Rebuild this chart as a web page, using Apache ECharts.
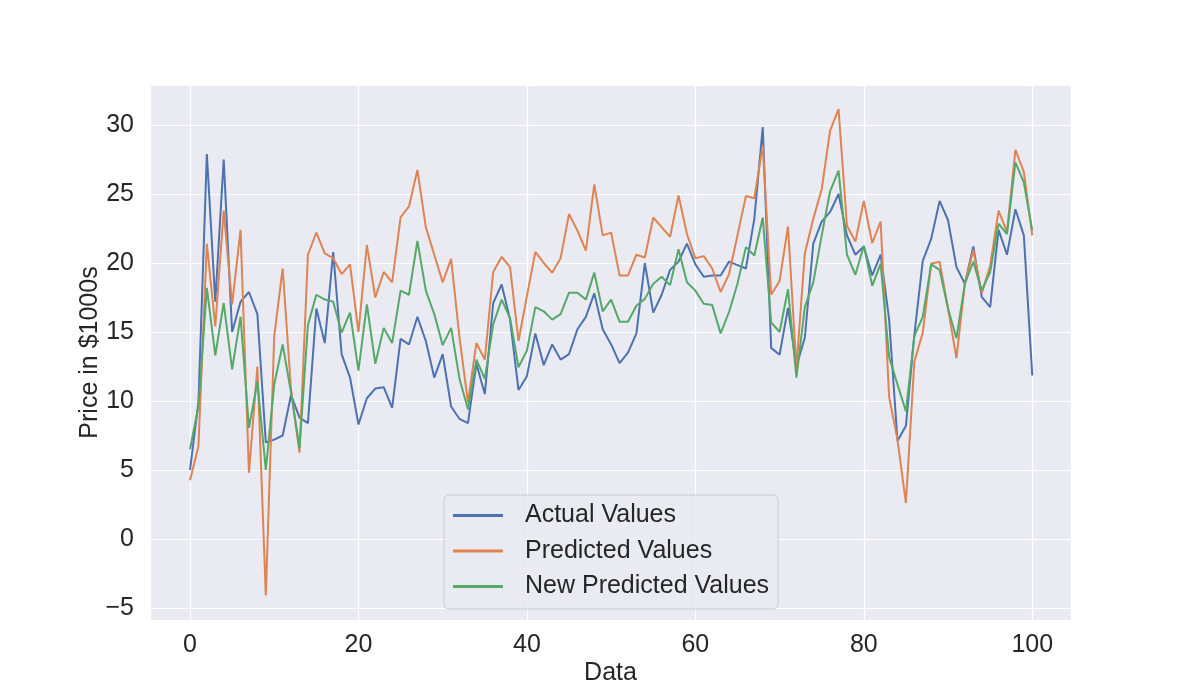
<!DOCTYPE html>
<html>
<head>
<meta charset="utf-8">
<script src="https://cdn.jsdelivr.net/npm/echarts@6/dist/echarts.min.js"></script>
<style>
html,body{margin:0;padding:0;background:#ffffff;}
#chart{width:1192px;height:698px;}
</style>
</head>
<body>
<div id="chart"></div>
<script>
const seriesNames = ['Actual Values', 'Predicted Values', 'New Predicted Values'];
const actualValues = [5.0, 9.9, 27.9, 17.2, 27.5, 15.0, 17.2, 17.9, 16.3, 7.0,
  7.2, 7.5, 10.45, 8.8, 8.4, 16.7, 14.2, 20.8, 13.4, 11.7,
  8.3, 10.2, 10.9, 11.0, 9.5, 14.5, 14.1, 16.1, 14.35, 11.7,
  13.4, 9.6, 8.7, 8.4, 12.7, 10.5, 17.1, 18.45, 15.9, 10.8,
  11.8, 14.9, 12.6, 14.1, 13.0, 13.4, 15.2, 16.1, 17.8, 15.2,
  14.1, 12.75, 13.5, 14.9, 20.0, 16.4, 17.7, 19.5, 20.1, 21.4,
  19.9, 19.0, 19.1, 19.1, 20.1, 19.85, 19.6, 23.2, 29.85, 13.85,
  13.35, 16.75, 12.5, 14.6, 21.4, 23.0, 23.7, 25.0, 22.0, 20.6,
  21.2, 19.1, 20.6, 15.95, 7.1, 8.2, 14.8, 20.15, 21.75, 24.5,
  23.1, 19.7, 18.5, 21.2, 17.55, 16.8, 22.4, 20.6, 23.9, 22.0,
  11.85];
const predictedValues = [4.25, 6.7, 21.4, 15.4, 23.8, 17.0, 22.4, 4.8, 12.5, -4.1,
  14.7, 19.6, 10.8, 6.25, 20.6, 22.2, 20.7, 20.35, 19.2, 19.9,
  15.0, 21.3, 17.5, 19.35, 18.6, 23.3, 24.1, 26.75, 22.6, 20.6,
  18.6, 20.3, 14.6, 9.9, 14.2, 13.0, 19.35, 20.45, 19.7, 14.35,
  17.6, 20.8, 20.0, 19.3, 20.35, 23.55, 22.35, 20.9, 25.7, 22.0,
  22.2, 19.1, 19.1, 20.6, 20.4, 23.3, 22.6, 21.9, 24.9, 22.1,
  20.35, 20.5, 19.6, 17.9, 19.2, 22.0, 24.85, 24.7, 28.5, 17.7,
  18.7, 22.65, 12.4, 20.7, 23.2, 25.35, 29.6, 31.15, 22.7, 21.55,
  24.5, 21.45, 23.0, 10.3, 7.2, 2.6, 12.85, 14.95, 19.95, 20.1,
  16.7, 13.1, 18.5, 20.95, 17.8, 19.8, 23.8, 22.25, 28.2, 26.6,
  22.0];
const newPredictedValues = [6.5, 9.6, 18.2, 13.3, 17.1, 12.3, 16.1, 8.05, 11.4, 5.0,
  11.2, 14.1, 10.6, 6.6, 15.5, 17.7, 17.35, 17.2, 14.95, 16.4,
  12.2, 17.0, 12.7, 15.3, 14.2, 18.0, 17.7, 21.6, 18.0, 16.3,
  14.05, 15.3, 11.6, 9.4, 13.0, 11.6, 15.55, 17.35, 16.0, 12.45,
  13.65, 16.8, 16.5, 15.9, 16.3, 17.85, 17.85, 17.35, 19.3, 16.5,
  17.35, 15.75, 15.75, 16.9, 17.4, 18.5, 19.0, 18.4, 21.0, 18.6,
  18.0, 17.05, 16.95, 14.9, 16.45, 18.5, 21.15, 20.55, 23.3, 15.7,
  15.0, 18.1, 11.7, 16.8, 18.6, 22.0, 25.2, 26.7, 20.6, 19.15,
  21.25, 18.35, 19.95, 13.2, 11.2, 9.25, 14.7, 16.1, 19.9, 19.5,
  16.7, 14.55, 18.5, 20.1, 18.0, 19.35, 22.85, 22.1, 27.3, 25.85,
  22.35];
const xTickLabels = [0, 20, 40, 60, 80, 100];
const yTickLabels = [-5, 0, 5, 10, 15, 20, 25, 30];

const xIndex = actualValues.map((_, i) => i);
const colors = ['#4c72b0', '#dd8452', '#55a868'];
const allValues = [actualValues, predictedValues, newPredictedValues];

const font = 'Liberation Sans, Arial, sans-serif';
const txt = '#262626';

function fmtNum(v) {
  return v < 0 ? '\u2212' + Math.abs(v) : String(v);
}

const chart = echarts.init(document.getElementById('chart'), null, {renderer: 'canvas'});
chart.setOption({
  animation: false,
  backgroundColor: '#ffffff',
  color: colors,
  grid: {left: 150, top: 85, width: 921, height: 535, containLabel: false,
    show: true, backgroundColor: '#eaeaf2', borderWidth: 0},
  legend: {
    orient: 'vertical',
    left: 444, top: 495,
    padding: [8, 9, 10, 9],
    itemGap: 10.5,
    itemWidth: 50, itemHeight: 3,
    icon: 'rect',
    backgroundColor: 'rgba(234,234,242,0.8)',
    borderColor: '#cccccc', borderWidth: 1, borderRadius: 5,
    textStyle: {fontFamily: font, fontSize: 25, color: txt, lineHeight: 25, padding: [0, 0, 0, 17]},
    data: seriesNames
  },
  xAxis: {
    type: 'value', min: -4.75, max: 104.6, minInterval: 20, maxInterval: 20, splitNumber: 5,
    name: 'Data', nameLocation: 'middle', nameGap: 41, nameMoveOverlap: false,
    nameTextStyle: {fontFamily: font, fontSize: 25, color: txt},
    axisLine: {show: false}, axisTick: {show: false},
    axisLabel: {fontFamily: font, fontSize: 25, color: txt, margin: 13,
      showMinLabel: false, showMaxLabel: false,
      formatter: v => xTickLabels.indexOf(v) >= 0 ? fmtNum(v) : ''},
    splitLine: {show: true, lineStyle: {color: '#ffffff', width: 1.2}}
  },
  yAxis: {
    type: 'value', min: -5.87, max: 32.9, minInterval: 5, maxInterval: 5, splitNumber: 8,
    name: 'Price in $1000s', nameLocation: 'middle', nameGap: 47, nameRotate: 90, nameMoveOverlap: false,
    nameTextStyle: {fontFamily: font, fontSize: 25, color: txt},
    axisLine: {show: false}, axisTick: {show: false},
    axisLabel: {fontFamily: font, fontSize: 25, color: txt, margin: 16,
      showMinLabel: false, showMaxLabel: false,
      formatter: v => yTickLabels.indexOf(v) >= 0 ? fmtNum(v) : ''},
    splitLine: {show: true, lineStyle: {color: '#ffffff', width: 1.2}}
  },
  series: seriesNames.map((name, k) => ({
    name: name,
    type: 'line',
    data: xIndex.map((x, i) => [x, allValues[k][i]]),
    showSymbol: false,
    symbol: 'none',
    lineStyle: {width: 2, color: colors[k]},
    itemStyle: {color: colors[k]},
    z: 2 + k
  }))
});
</script>
</body>
</html>
